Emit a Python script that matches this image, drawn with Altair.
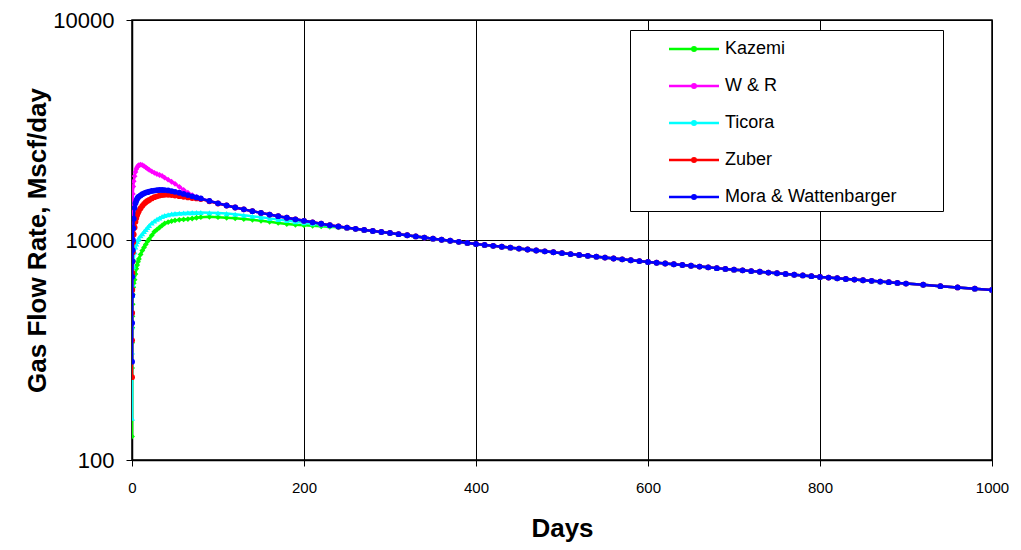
import altair as alt
import pandas as pd

series_names = ["Kazemi", "W & R", "Ticora", "Zuber", "Mora & Wattenbarger"]
series_colors = ["#00FF00", "#FF00FF", "#00FFFF", "#FF0000", "#0000FF"]
series_shapes = ["diamond", "diamond", "triangle-up", "circle", "circle"]

# days with individual early readings (0.05 .. 240)
days_early = [0.05, 0.1, 0.2, 0.3, 0.5, 0.75, 1, 1.5, 2, 3, 4, 5, 6, 7, 8, 10, 12, 14,
              16, 18, 20, 23, 26, 29, 32, 35, 38, 42, 46, 50, 55, 60, 65, 70, 75,
              80, 90, 100, 110, 120, 130, 140, 150, 160, 170, 180, 190, 200, 210,
              220, 230, 240]
# days where all curves coincide (250 .. 1000)
days_late = list(range(250, 901, 10)) + [920, 940, 960, 980, 1000]

kazemi = [128, 262, 341, 400, 450, 510, 565, 610, 636, 660, 700, 740, 770, 797, 820,
          860, 895, 925, 955, 985, 1010, 1050, 1090, 1115, 1140, 1165, 1190, 1205,
          1218, 1228, 1235, 1240, 1245, 1252, 1262, 1270, 1274, 1270, 1262, 1255,
          1245, 1235, 1222, 1210, 1196, 1182, 1172, 1166, 1160, 1154, 1148, 1143]
w_and_r = [900, 1050, 1180, 1300, 1420, 1530, 1620, 1750, 1850, 1950, 2040, 2100,
           2140, 2170, 2190, 2200, 2190, 2165, 2140, 2110, 2085, 2050, 2020, 1995,
           1975, 1955, 1920, 1880, 1840, 1800, 1745, 1690, 1640, 1600, 1570, 1545,
           1505, 1468, 1435, 1405, 1378, 1352, 1328, 1305, 1283, 1262, 1242, 1222,
           1203, 1185, 1168, 1152]
ticora = [155, 310, 403, 478, 560, 630, 690, 760, 820, 885, 930, 960, 985, 1005, 1020,
          1045, 1068, 1092, 1115, 1140, 1165, 1195, 1220, 1242, 1260, 1278, 1292,
          1303, 1312, 1318, 1322, 1326, 1330, 1332, 1333, 1333, 1331, 1326, 1318,
          1308, 1296, 1283, 1268, 1254, 1240, 1226, 1211, 1197, 1185, 1172, 1160, 1150]
zuber = [238, 350, 466, 593, 708, 800, 880, 980, 1060, 1140, 1210, 1260, 1300, 1330,
         1355, 1395, 1430, 1460, 1485, 1505, 1520, 1545, 1565, 1580, 1592, 1600, 1605,
         1605, 1600, 1592, 1582, 1572, 1562, 1552, 1545, 1535, 1500, 1465, 1435, 1405,
         1378, 1352, 1328, 1305, 1283, 1262, 1242, 1222, 1203, 1185, 1168, 1152]
mora = [280, 420, 560, 680, 800, 900, 1000, 1130, 1250, 1400, 1470, 1510, 1540, 1560,
        1575, 1595, 1615, 1630, 1642, 1650, 1660, 1670, 1678, 1684, 1687, 1688, 1686,
        1680, 1668, 1655, 1640, 1620, 1600, 1580, 1562, 1545, 1505, 1468, 1435, 1405,
        1378, 1352, 1328, 1305, 1283, 1262, 1242, 1222, 1203, 1185, 1168, 1152]
late_rate = [1138, 1124, 1111, 1099, 1087, 1076, 1063, 1051, 1038, 1026, 1014, 1003,
             992, 981, 970, 959, 950, 941, 932, 923, 914, 905, 896, 888, 880, 871, 863,
             855, 847, 840, 832, 824, 817, 809, 802, 794, 788, 782, 776, 770, 764, 757,
             751, 745, 739, 733, 728, 722, 717, 711, 706, 701, 695, 690, 685, 679, 675,
             670, 665, 661, 656, 652, 647, 643, 638, 634, 626, 617, 609, 601, 593]

x_ticks = [0, 200, 400, 600, 800, 1000]
y_ticks = [100, 1000, 10000]

early_lists = [kazemi, w_and_r, ticora, zuber, mora]
rows = []
for name, vals in zip(series_names, early_lists):
    for d, v in zip(days_early + days_late, vals + late_rate):
        rows.append({"model": name, "day": d, "rate": v})
df = pd.DataFrame(rows)

FONT = "Liberation Sans"
color_scale = alt.Scale(domain=series_names, range=series_colors)

x_enc = alt.X("day:Q", scale=alt.Scale(domain=[0, 1000], nice=False, zero=False),
              axis=alt.Axis(values=x_ticks, title="Days", format="d", labelFlush=False,
                            labelFontSize=15, labelFont=FONT, labelColor="black",
                            titleFontSize=26, titleFont=FONT, titleFontWeight="bold",
                            titleColor="black", titleY=68, titleBaseline="middle",
                            grid=True, gridColor="black", gridWidth=1, gridOpacity=1,
                            domainColor="black", domainWidth=1.5, tickColor="black",
                            tickSize=6, labelPadding=14))
y_enc = alt.Y("rate:Q", scale=alt.Scale(type="log", domain=[100, 10000], nice=False),
              axis=alt.Axis(values=y_ticks, title="Gas Flow Rate, Mscf/day", format="d",
                            labelFlush=False,
                            labelFontSize=22, labelFont=FONT, labelColor="black",
                            titleFontSize=26, titleFont=FONT, titleFontWeight="bold",
                            titleColor="black", titleX=-95, titleY=220, titleAngle=270,
                            titleBaseline="middle", titleAlign="center",
                            grid=True, gridColor="black", gridWidth=1, gridOpacity=1,
                            domainColor="black", domainWidth=1.5, tickColor="black",
                            tickSize=6, labelPadding=12))

legend = alt.Legend(
    title="\u00a0", titleOrient="right", titleFontSize=18, titlePadding=42,
    orient="none", legendX=498, legendY=10,
    symbolType="M-2,0H2M0.14,0A0.14,0.14,0,1,1,-0.14,0A0.14,0.14,0,1,1,0.14,0Z",
    symbolSize=625, symbolStrokeWidth=2.5, symbolOffset=45,
    labelOffset=17, labelFontSize=18, labelFont=FONT, labelColor="black",
    labelLimit=400,
    rowPadding=14, padding=5, fillColor="white", strokeColor="black",
)

layers = []
for name, shape in zip(series_names, series_shapes):
    base = alt.Chart(df).transform_filter(alt.datum.model == name)
    line = base.mark_line(strokeWidth=2.5, clip=True).encode(
        x=x_enc, y=y_enc, order=alt.Order("day:Q"),
        color=alt.Color("model:N", scale=color_scale, legend=legend))
    pts = base.mark_point(filled=True, size=34, opacity=1, shape=shape, clip=True).encode(
        x=x_enc, y=y_enc,
        color=alt.Color("model:N", scale=color_scale, legend=legend))
    layers += [line, pts]

chart = alt.layer(*layers).properties(
    width=860, height=440,
    autosize=alt.AutoSizeParams(type="none"),
    padding={"left": 132, "top": 20, "right": 29, "bottom": 90},
    background="white",
).configure_view(stroke="black", strokeWidth=1.5)

chart.save("out.html", embed_options={"renderer": "svg", "actions": False})
